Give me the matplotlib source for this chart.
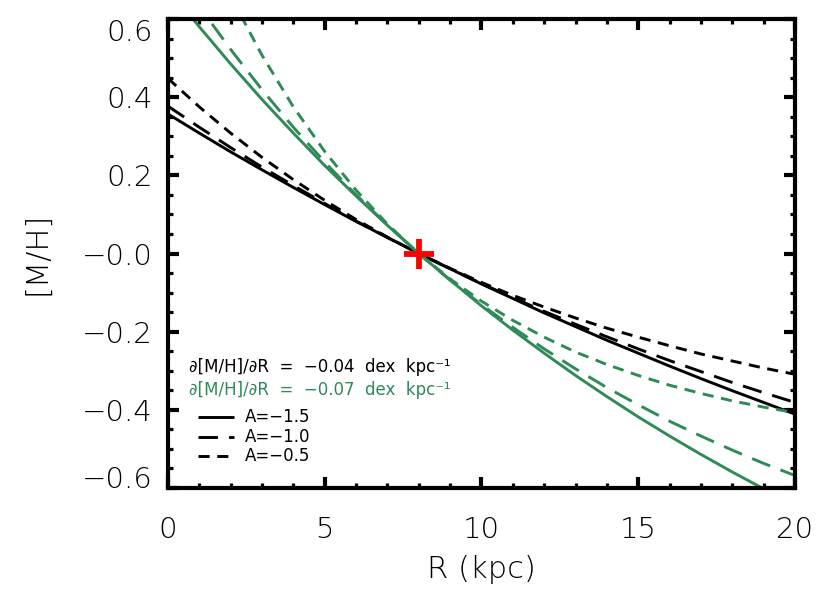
import matplotlib
matplotlib.use("Agg")
import matplotlib.pyplot as plt
from matplotlib.ticker import MultipleLocator

plt.rcParams['font.family'] = ['DejaVu Sans']
plt.rcParams['font.weight'] = 'light'
plt.rcParams['axes.labelweight'] = 'light'
plt.rcParams['lines.scale_dashes'] = False

# Radius grid (kpc)
R = [0, 1, 2, 3, 4, 5, 6, 7, 8, 9, 10, 11, 12, 13, 14, 15, 16, 17, 18, 19, 20]

# Black: d[M/H]/dR = -0.04 dex/kpc
black_A15 = [0.357, 0.308, 0.260, 0.214, 0.169, 0.125, 0.082, 0.041, 0.0,
             -0.039, -0.078, -0.115, -0.152, -0.187, -0.222, -0.255, -0.288,
             -0.320, -0.351, -0.381, -0.411]
black_A10 = [0.377, 0.323, 0.271, 0.221, 0.174, 0.128, 0.083, 0.041, 0.0,
             -0.039, -0.077, -0.113, -0.148, -0.181, -0.213, -0.244, -0.274,
             -0.302, -0.330, -0.356, -0.381]
black_A05 = [0.448, 0.375, 0.308, 0.246, 0.189, 0.136, 0.087, 0.042, 0.0,
             -0.038, -0.074, -0.107, -0.137, -0.165, -0.191, -0.214, -0.236,
             -0.257, -0.275, -0.293, -0.309]
# Green: d[M/H]/dR = -0.07 dex/kpc
green_A15 = [0.679, 0.580, 0.485, 0.394, 0.308, 0.225, 0.147, 0.072, 0.0,
             -0.068, -0.134, -0.196, -0.255, -0.312, -0.366, -0.418, -0.467,
             -0.514, -0.559, -0.602, -0.643]
green_A10 = [0.751, 0.632, 0.522, 0.419, 0.323, 0.234, 0.150, 0.073, 0.0,
             -0.068, -0.131, -0.189, -0.244, -0.295, -0.343, -0.387, -0.429,
             -0.467, -0.503, -0.537, -0.568]
green_A05 = [1.032, 0.832, 0.658, 0.507, 0.375, 0.261, 0.162, 0.075, 0.0,
             -0.065, -0.122, -0.171, -0.214, -0.252, -0.284, -0.312, -0.337,
             -0.358, -0.377, -0.393, -0.407]

sun_R = [8.0]
sun_MH = [0.0]

A_labels = ['A=\u22121.5', 'A=\u22121.0', 'A=\u22120.5']
grad_labels = ['\u2202[M/H]/\u2202R  =  \u22120.04  dex  kpc\u207b\u00b9',
               '\u2202[M/H]/\u2202R  =  \u22120.07  dex  kpc\u207b\u00b9']

xticks = [0, 5, 10, 15, 20]
xticklabels = ['0', '5', '10', '15', '20']
yticks = [-0.6, -0.4, -0.2, 0.0, 0.2, 0.4, 0.6]
yticklabels = ['\u22120.6', '\u22120.4', '\u22120.2', '\u22120.0', '0.2', '0.4', '0.6']

GREEN = '#2e8b57'
styles = ['-', (0, (14, 8)), (0, (8, 5.5))]

fig = plt.figure(figsize=(8.30, 6.07), dpi=100)
ax = fig.add_axes([0.2024, 0.1960, 0.7554, 0.7727])

lw = 2.1
for ys, ls in zip([black_A15, black_A10, black_A05], styles):
    ax.plot(R, ys, color='black', lw=lw, linestyle=ls, solid_capstyle='butt', dash_capstyle='butt')
for ys, ls in zip([green_A15, green_A10, green_A05], styles):
    ax.plot(R, ys, color=GREEN, lw=lw, linestyle=ls, solid_capstyle='butt', dash_capstyle='butt')

ax.plot(sun_R, sun_MH, marker='+', color='red', markersize=22, markeredgewidth=4.2, linestyle='none', zorder=5)

ax.set_xlim(0, 20)
ax.set_ylim(-0.6, 0.6)
ax.set_xticks(xticks)
ax.set_xticklabels(xticklabels)
ax.set_yticks(yticks)
ax.set_yticklabels(yticklabels)
ax.xaxis.set_minor_locator(MultipleLocator(1))
ax.yaxis.set_minor_locator(MultipleLocator(0.05))
ax.tick_params(which='both', direction='in', top=True, right=True, labelsize=21, colors='black')
ax.tick_params(which='major', length=8, width=3)
ax.tick_params(which='minor', length=3.8, width=2.3)
ax.tick_params(axis='x', which='major', pad=20)
ax.tick_params(axis='y', which='major', pad=11)
for sp in ax.spines.values():
    sp.set_linewidth(3)

ax.set_xlabel('R (kpc)', fontsize=22, labelpad=8, fontweight='light')
ax.set_ylabel('[M/H]', fontsize=22, labelpad=22, fontweight='light')

yt = ax.yaxis.get_major_ticks()
yt[-1].label1.set_verticalalignment('top')
yt[0].label1.set_verticalalignment('baseline')

ax.text(0.0335, 0.258, grad_labels[0], transform=ax.transAxes, fontsize=12, color='black',
        va='center', ha='left', fontweight='normal')
ax.text(0.0335, 0.209, grad_labels[1], transform=ax.transAxes, fontsize=12, color=GREEN,
        va='center', ha='left', fontweight='normal')
for i, (lab, ls) in enumerate(zip(A_labels, styles)):
    yy = [0.151, 0.109, 0.068][i]
    ax.plot([0.048, 0.106], [yy, yy], transform=ax.transAxes, color='black', lw=lw, linestyle=ls,
            solid_capstyle='butt', dash_capstyle='butt')
    ax.text(0.123, yy, lab, transform=ax.transAxes, fontsize=12, color='black', va='center',
            ha='left', fontweight='normal')

fig.savefig('out.png', dpi=100)
